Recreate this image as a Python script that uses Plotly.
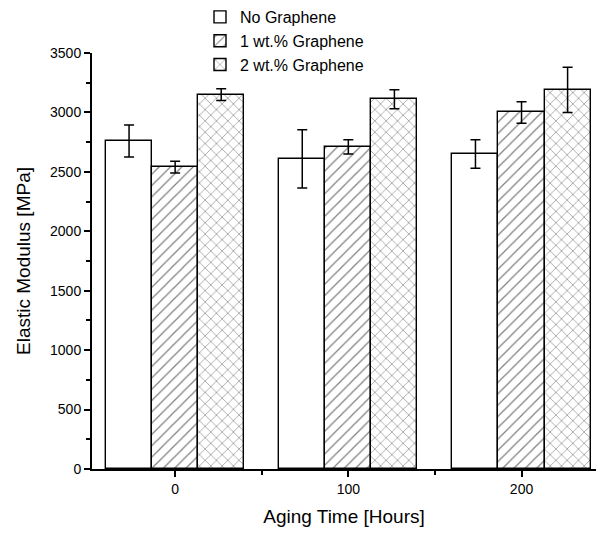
import plotly.graph_objects as go

aging_hours = [0, 100, 200]
series_names = ["No Graphene", "1 wt.% Graphene", "2 wt.% Graphene"]
modulus_none = [2760, 2610, 2650]
modulus_1wt = [2540, 2710, 3000]
modulus_2wt = [3150, 3110, 3190]
err_none = [135, 245, 120]
err_1wt = [50, 60, 90]
err_2wt = [50, 80, 190]

bar_w = 26.6
offsets = [-bar_w, 0, bar_w]
patterns = ["", "/", "x"]
values = [modulus_none, modulus_1wt, modulus_2wt]
errors = [err_none, err_1wt, err_2wt]

fig = go.Figure()
for name, vals, errs, off, pat in zip(series_names, values, errors, offsets, patterns):
    fig.add_trace(go.Bar(
        x=[h + off for h in aging_hours],
        y=vals,
        width=bar_w,
        name=name,
        marker=dict(
            color="white",
            line=dict(color="black", width=1.4),
            pattern=dict(shape=pat, fgcolor="black", bgcolor="white", size=8, solidity=0.15),
        ),
        error_y=dict(type="data", array=errs, color="black", thickness=1.5, width=5),
    ))

fig.update_layout(
    width=596, height=533,
    margin=dict(l=92, r=0, t=53, b=64, autoexpand=False),
    paper_bgcolor="white", plot_bgcolor="white",
    font=dict(family="Liberation Sans, Arial, sans-serif", color="black", size=14),
    barmode="overlay",
    bargap=0,
    showlegend=True,
    legend=dict(
        x=(200 - 92) / 504, xanchor="left",
        y=1.0, yref="container", yanchor="top",
        font=dict(size=16),
        tracegroupgap=0, itemwidth=30,
        bgcolor="rgba(0,0,0,0)",
    ),
    xaxis=dict(
        range=[-48, 243],
        tickvals=aging_hours,
        ticks="outside", ticklen=6, tickwidth=1.5, tickcolor="black",
        minor=dict(tickvals=[50, 150], ticks="outside", ticklen=4, tickwidth=1.5, tickcolor="black"),
        showline=True, linecolor="black", linewidth=2,
        showgrid=False, zeroline=False,
        tickfont=dict(size=14),
        title=dict(text="Aging Time [Hours]", font=dict(size=19), standoff=14),
    ),
    yaxis=dict(
        range=[0, 3500],
        dtick=500,
        ticks="outside", ticklen=6, tickwidth=1.5, tickcolor="black",
        minor=dict(dtick=250, ticks="outside", ticklen=4, tickwidth=1.5, tickcolor="black"),
        showline=True, linecolor="black", linewidth=2,
        showgrid=False, zeroline=False,
        tickfont=dict(size=14),
        title=dict(text="Elastic Modulus [MPa]", font=dict(size=19), standoff=14),
    ),
)

fig.write_html("out.html")
